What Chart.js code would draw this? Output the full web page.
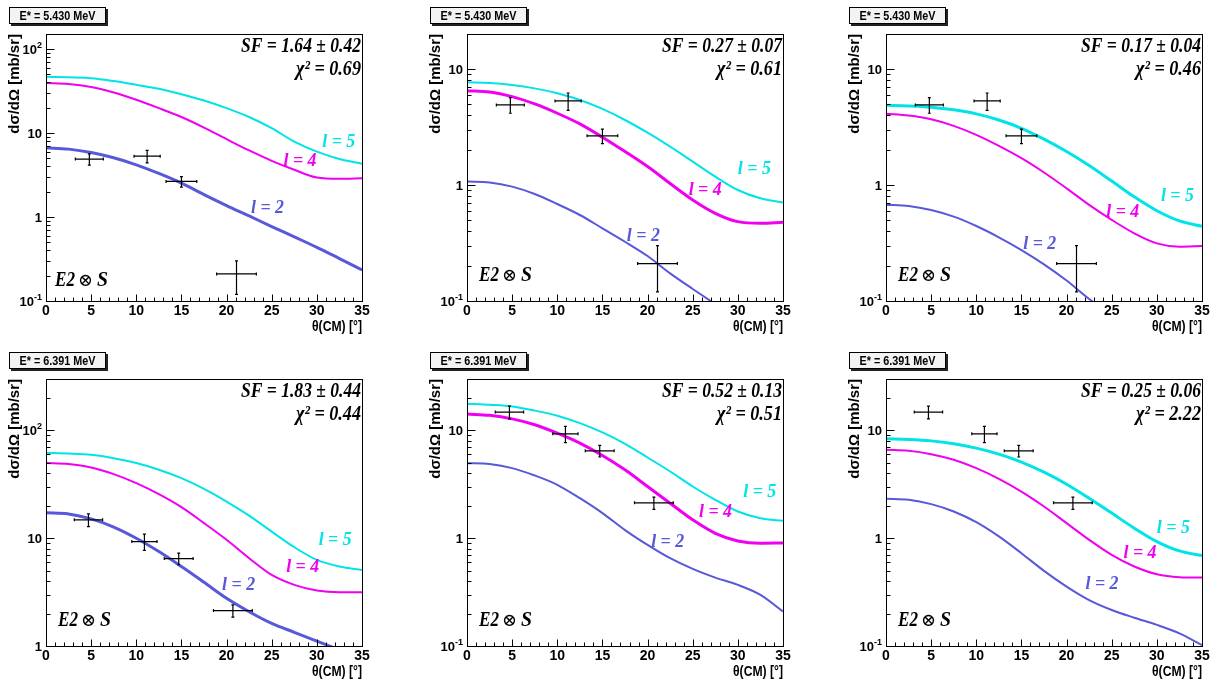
<!DOCTYPE html>
<html>
<head>
<meta charset="utf-8">
<script src="https://cdn.jsdelivr.net/npm/chart.js@4.4.1/dist/chart.umd.min.js"></script>
<style>
html, body { margin: 0; padding: 0; background: #fff; }
body { width: 1216px; height: 684px; position: relative; overflow: hidden; }
canvas { position: absolute; }
</style>
</head>
<body>
<script>
// CM angle grid of the DWBA curves (deg)
const theta = [0, 2.5, 5, 7.5, 10, 12.5, 15, 17.5, 20, 22.5, 25, 27.5, 30, 32.5, 35];

// E* = 5.430 MeV  (top row), curves l=5, l=4, l=2  [mb/sr]
const a_l5 = [46.8, 46, 45, 41.6, 37.6, 33.7, 29, 24.4, 19.8, 15.5, 11.4, 7.9, 6.0, 4.9, 4.3];
const a_l4 = [39.3, 38.3, 35.3, 30.4, 24.9, 19.8, 15.5, 11.6, 8.45, 6.2, 4.67, 3.65, 2.95, 2.85, 2.9];
const a_l2 = [6.67, 6.43, 5.86, 5.07, 4.18, 3.3, 2.53, 1.85, 1.37, 1.03, 0.77, 0.58, 0.436, 0.32, 0.234];

const b_l5 = [7.67, 7.57, 7.28, 6.8, 6.17, 5.4, 4.52, 3.63, 2.82, 2.14, 1.59, 1.18, 0.905, 0.767, 0.705];
const b_l4 = [6.5, 6.34, 5.77, 4.99, 4.15, 3.36, 2.58, 1.94, 1.44, 1.03, 0.743, 0.57, 0.483, 0.468, 0.477];
const b_l2 = [1.07, 1.05, 0.968, 0.836, 0.685, 0.551, 0.423, 0.324, 0.244, 0.173, 0.127, 0.094, 0.069, 0.051, 0.037];

const c_l5 = [4.86, 4.8, 4.68, 4.44, 4.1, 3.63, 3.08, 2.48, 1.94, 1.47, 1.08, 0.79, 0.6, 0.49, 0.44];
const c_l4 = [4.1, 3.96, 3.68, 3.23, 2.7, 2.17, 1.7, 1.28, 0.935, 0.673, 0.5, 0.383, 0.314, 0.294, 0.298];
const c_l2 = [0.676, 0.659, 0.608, 0.533, 0.443, 0.354, 0.275, 0.207, 0.15, 0.104, 0.076, 0.055, 0.04, 0.03, 0.022];

// E* = 6.391 MeV  (bottom row)
const d_l5 = [62, 61.1, 59.4, 55.3, 49.8, 43.2, 36.1, 28.7, 21.9, 16.2, 11.5, 8.25, 6.29, 5.46, 5.08];
const d_l4 = [49.8, 48.7, 45.3, 39.3, 32.4, 25.6, 19.4, 13.8, 9.66, 6.52, 4.56, 3.69, 3.27, 3.15, 3.15];
const d_l2 = [17.2, 16.8, 15.1, 12.7, 10, 7.52, 5.46, 3.9, 2.77, 2.08, 1.62, 1.34, 1.11, 0.92, 0.77];

const e_l5 = [17.7, 17.3, 16.7, 15.3, 13.7, 11.7, 9.58, 7.52, 5.61, 4.16, 3.02, 2.27, 1.77, 1.53, 1.45];
const e_l4 = [14.2, 13.8, 12.8, 11.3, 9.44, 7.63, 5.86, 4.31, 3.02, 2.11, 1.48, 1.11, 0.944, 0.9, 0.905];
const e_l2 = [4.97, 4.87, 4.47, 3.82, 3.13, 2.35, 1.71, 1.19, 0.867, 0.652, 0.519, 0.431, 0.369, 0.298, 0.209];

const f_l5 = [8.37, 8.25, 8.0, 7.52, 6.85, 6.02, 5.08, 4.1, 3.17, 2.35, 1.71, 1.24, 0.931, 0.762, 0.69];
const f_l4 = [6.61, 6.47, 6.02, 5.34, 4.47, 3.56, 2.71, 1.97, 1.38, 0.966, 0.7, 0.546, 0.463, 0.435, 0.431];
const f_l2 = [2.32, 2.27, 2.07, 1.77, 1.41, 1.04, 0.726, 0.498, 0.356, 0.267, 0.216, 0.183, 0.157, 0.131, 0.102];

// measured points
const expThetaA = [4.8, 11.2, 15.0, 21.1];
const expSigmaA = [4.9, 5.3, 2.65, 0.21];
const expDThetaA = [1.55, 1.45, 1.7, 2.2];
const expDSigmaA = [0.75, 0.9, 0.38, 0.09];

const expThetaB = [4.7, 10.9, 14.7, 20.7];
const expSigmaB = [14.8, 9.3, 6.47, 2.13];
const expDThetaB = [1.57, 1.4, 1.6, 2.15];
const expDSigmaB = [2.0, 1.6, 0.8, 0.28];

// texts
const energyA = 'E* = 5.430 MeV';
const energyB = 'E* = 6.391 MeV';
const sfTexts = ['SF = 1.64 \u00b1 0.42', 'SF = 0.27 \u00b1 0.07', 'SF = 0.17 \u00b1 0.04',
                 'SF = 1.83 \u00b1 0.44', 'SF = 0.52 \u00b1 0.13', 'SF = 0.25 \u00b1 0.06'];
const chiTexts = ['\u03c7\u00b2 = 0.69', '\u03c7\u00b2 = 0.61', '\u03c7\u00b2 = 0.46',
                  '\u03c7\u00b2 = 0.44', '\u03c7\u00b2 = 0.51', '\u03c7\u00b2 = 2.22'];
const curveNames = ['l = 5', 'l = 4', 'l = 2'];

// where the l labels sit (theta, sigma) per panel
const lblTheta = [[30.6, 26.3, 22.7], [30.0, 24.55, 17.7], [30.45, 24.4, 15.2],
                  [30.2, 26.6, 19.5], [30.6, 25.7, 20.4], [30.0, 26.3, 22.1]];
const lblSigma = [[6.9, 4.0, 1.13], [1.24, 0.82, 0.331], [0.728, 0.533, 0.279],
                  [8.67, 4.83, 3.31], [2.39, 1.59, 0.837], [1.11, 0.652, 0.336]];

const yMins = [0.1, 0.1, 0.1, 1, 0.1, 0.1];
const yMaxs = [151, 20, 20, 300, 30, 30];

const lineColors = ['rgb(0,228,232)', 'rgb(240,0,240)', 'rgb(88,88,218)'];
const SANS = "'Liberation Sans', Arial, sans-serif";
const SERIF = "'Liberation Serif', 'Times New Roman', serif";

const panels = [
  { frame: [46, 34],  curves: [a_l5, a_l4, a_l2], best: 2, row: 'A', e2: [9, 15] },
  { frame: [467, 34], curves: [b_l5, b_l4, b_l2], best: 1, row: 'A', e2: [12, 20] },
  { frame: [886, 34], curves: [c_l5, c_l4, c_l2], best: 0, row: 'A', e2: [12, 20] },
  { frame: [46, 379], curves: [d_l5, d_l4, d_l2], best: 2, row: 'B', e2: [12, 20] },
  { frame: [467, 379], curves: [e_l5, e_l4, e_l2], best: 1, row: 'B', e2: [12, 20] },
  { frame: [886, 379], curves: [f_l5, f_l4, f_l2], best: 0, row: 'B', e2: [12, 20] }
];

function drawYLabel(ctx, xr, y, exp) {
  let base = exp === 0 ? '1' : '10';
  let sup = (exp === 0 || exp === 1) ? '' : String(exp);
  ctx.font = 'bold 9px ' + SANS;
  const ws = sup ? ctx.measureText(sup).width : 0;
  ctx.font = 'bold 13px ' + SANS;
  const wb = ctx.measureText(base).width;
  ctx.textAlign = 'left';
  ctx.textBaseline = 'middle';
  ctx.fillText(base, xr - ws - wb, y + 1);
  if (sup) {
    ctx.font = 'bold 9px ' + SANS;
    ctx.textBaseline = 'alphabetic';
    ctx.fillText(sup, xr - ws, y - 1);
  }
}

// "E2 (x) S" with a plain circled-times glyph
function drawE2S(ctx, x, y) {
  ctx.textAlign = 'left';
  ctx.textBaseline = 'alphabetic';
  ctx.font = 'bold italic 20px ' + SERIF;
  ctx.fillText('E2', x, y, 20);
  ctx.font = "18px 'DejaVu Serif', serif";
  ctx.fillText('\u2297', x + 23, y, 15);
  ctx.font = 'bold italic 20px ' + SERIF;
  ctx.fillText('S', x + 42, y, 11);
}

function framePlugin(idx, p) {
  return {
    id: 'rootFrame' + idx,
    afterDatasetsDraw(chart) {
      // error bars of the measured points
      const ctx = chart.ctx, xs = chart.scales.x, ys = chart.scales.y;
      const ds = chart.data.datasets[3];
      ctx.save();
      ctx.strokeStyle = '#000';
      ctx.lineWidth = 1.2;
      ds.data.forEach(pt => {
        const px = xs.getPixelForValue(pt.x), py = ys.getPixelForValue(pt.y);
        const x0 = xs.getPixelForValue(pt.x - pt.dx), x1 = xs.getPixelForValue(pt.x + pt.dx);
        const y0 = ys.getPixelForValue(pt.y - pt.dy), y1 = ys.getPixelForValue(pt.y + pt.dy);
        ctx.beginPath();
        ctx.moveTo(x0, py); ctx.lineTo(x1, py);
        ctx.moveTo(px, y0); ctx.lineTo(px, y1);
        ctx.moveTo(x0, py - 1.5); ctx.lineTo(x0, py + 1.5);
        ctx.moveTo(x1, py - 1.5); ctx.lineTo(x1, py + 1.5);
        ctx.moveTo(px - 1.5, y0); ctx.lineTo(px + 1.5, y0);
        ctx.moveTo(px - 1.5, y1); ctx.lineTo(px + 1.5, y1);
        ctx.stroke();
      });
      ctx.restore();
    },
    afterDraw(chart) {
      const ctx = chart.ctx, xs = chart.scales.x, ys = chart.scales.y;
      const a = chart.chartArea;
      const L = Math.round(a.left) + 0.5, R = Math.round(a.right) + 0.5;
      const T = Math.round(a.top) + 0.5, B = Math.round(a.bottom) + 0.5;
      ctx.save();
      ctx.strokeStyle = '#000';
      ctx.fillStyle = '#000';
      ctx.lineWidth = 1;

      // ticks pointing inward
      ctx.beginPath();
      for (let t = 0; t <= 35; t++) {
        const x = Math.round(xs.getPixelForValue(t)) + 0.5;
        ctx.moveTo(x, B);
        ctx.lineTo(x, B - (t % 5 === 0 ? 7 : 4));
      }
      const lo = Math.floor(Math.log10(ys.min)), hi = Math.ceil(Math.log10(ys.max));
      for (let d = lo; d <= hi; d++) {
        for (let k = 1; k <= 9; k++) {
          const v = k * Math.pow(10, d);
          if (v < ys.min * 0.999 || v > ys.max) continue;
          const y = Math.round(ys.getPixelForValue(v)) + 0.5;
          ctx.moveTo(L, y);
          ctx.lineTo(L + (k === 1 ? 8 : 4), y);
        }
      }
      ctx.stroke();
      ctx.strokeRect(L, T, R - L, B - T);

      // y tick labels
      for (let d = lo; d <= hi; d++) {
        const v = Math.pow(10, d);
        if (v < ys.min * 0.999 || v > ys.max) continue;
        drawYLabel(ctx, a.left - 4, ys.getPixelForValue(v), d);
      }

      // axis titles
      ctx.font = 'bold 14px ' + SANS;
      ctx.textAlign = 'right';
      ctx.textBaseline = 'alphabetic';
      ctx.fillText('\u03b8(CM) [\u00b0]', a.right, a.bottom + 30, 50);
      ctx.save();
      ctx.translate(a.left - 31, a.top);
      ctx.rotate(-Math.PI / 2);
      ctx.textAlign = 'right';
      ctx.textBaseline = 'middle';
      ctx.font = 'bold 15px ' + SANS;
      ctx.fillText('d\u03c3/d\u03a9 [mb/sr]', 0, 0, 100);
      ctx.restore();

      // energy box
      const bx = a.left - 37, by = a.top - 27, bw = 97, bh = 17;
      ctx.fillStyle = '#222';
      ctx.fillRect(bx + 2, by + bh, bw, 2);
      ctx.fillRect(bx + bw, by + 2, 2, bh);
      ctx.fillStyle = '#f3f3f3';
      ctx.fillRect(bx, by, bw, bh);
      ctx.strokeRect(bx + 0.5, by + 0.5, bw - 1, bh - 1);
      ctx.fillStyle = '#000';
      ctx.font = 'bold 12px ' + SANS;
      ctx.textAlign = 'center';
      ctx.fillText(p.row === 'A' ? energyA : energyB, bx + bw / 2, by + 13, 76);

      // SF and chi2
      ctx.font = 'bold italic 21px ' + SERIF;
      ctx.textAlign = 'right';
      ctx.fillText(sfTexts[idx], a.right - 1, a.top + 18, 120);
      ctx.fillText(chiTexts[idx], a.right - 1, a.top + 41, 65);

      // E2 x S
      drawE2S(ctx, a.left + p.e2[0], a.bottom - p.e2[1]);

      // curve labels
      ctx.textAlign = 'left';
      ctx.font = 'bold italic 19px ' + SERIF;
      for (let j = 0; j < 3; j++) {
        ctx.fillStyle = lineColors[j];
        ctx.fillText(curveNames[j], xs.getPixelForValue(lblTheta[idx][j]),
                     ys.getPixelForValue(lblSigma[idx][j]), 33);
      }
      ctx.restore();
    }
  };
}

panels.forEach((p, idx) => {
  const cv = document.createElement('canvas');
  const W = 374, H = 341;
  cv.width = W; cv.height = H;
  cv.style.width = W + 'px'; cv.style.height = H + 'px';
  cv.style.left = (p.frame[0] - 46) + 'px';
  cv.style.top = (p.frame[1] - 34) + 'px';
  document.body.appendChild(cv);

  const ex = p.row === 'A'
    ? expThetaA.map((t, i) => ({ x: t, y: expSigmaA[i], dx: expDThetaA[i], dy: expDSigmaA[i] }))
    : expThetaB.map((t, i) => ({ x: t, y: expSigmaB[i], dx: expDThetaB[i], dy: expDSigmaB[i] }));

  const datasets = p.curves.map((arr, j) => ({
    type: 'line',
    data: theta.map((t, i) => ({ x: t, y: arr[i] })),
    borderColor: lineColors[j],
    borderWidth: j === p.best ? 3 : 2,
    pointRadius: 0,
    fill: false,
    cubicInterpolationMode: 'monotone',
    clip: 0
  }));
  datasets.push({ type: 'scatter', data: ex, pointRadius: 0, borderColor: '#000' });

  new Chart(cv, {
    type: 'line',
    data: { datasets },
    options: {
      responsive: false,
      animation: false,
      devicePixelRatio: 1,
      events: [],
      layout: { padding: { left: 0, right: 12, top: 34, bottom: 0 } },
      plugins: { legend: { display: false }, tooltip: { enabled: false } },
      scales: {
        x: {
          type: 'linear', min: 0, max: 35,
          grid: { display: false, drawTicks: false },
          border: { display: false },
          ticks: {
            stepSize: 5, autoSkip: false, maxRotation: 0, padding: 2,
            color: '#000', font: { family: SANS, size: 14, weight: 'bold' }
          },
          afterFit(s) { s.height = 40; }
        },
        y: {
          type: 'logarithmic', min: yMins[idx], max: yMaxs[idx],
          grid: { display: false, drawTicks: false },
          border: { display: false },
          ticks: { display: false },
          afterFit(s) { s.width = 46; }
        }
      }
    },
    plugins: [framePlugin(idx, p)]
  });
});
</script>
</body>
</html>
